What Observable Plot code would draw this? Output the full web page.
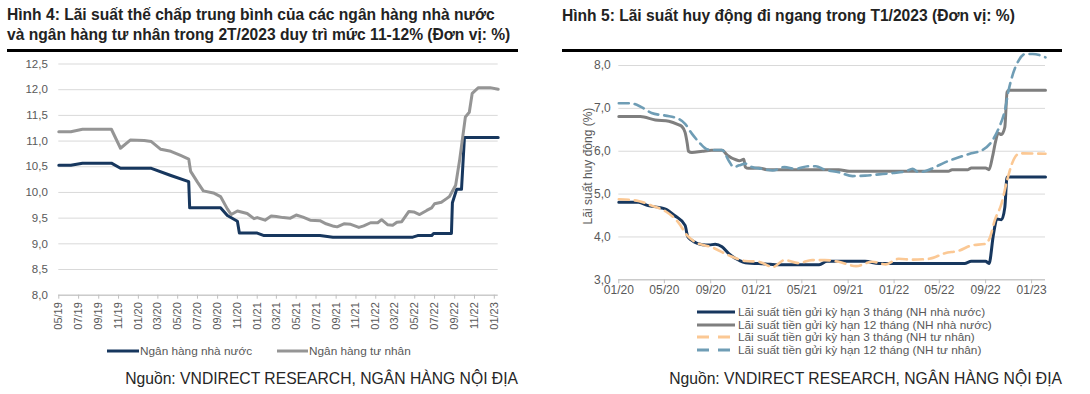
<!DOCTYPE html>
<html><head><meta charset="utf-8">
<script src="https://cdn.jsdelivr.net/npm/d3@7"></script>
<script src="https://cdn.jsdelivr.net/npm/@observablehq/plot@0.6"></script>
<style>
body{margin:0;background:#fff;font-family:"Liberation Sans",Arial,sans-serif;}
#root{position:relative;width:1090px;height:394px;overflow:hidden;background:#fff;}
.abs{position:absolute;}
.title{font-weight:bold;font-size:15.6px;color:#222;line-height:20px;white-space:nowrap;}
.rule{height:3px;background:#000;}
.src{font-size:15.7px;color:#262626;white-space:nowrap;line-height:18px;}
.leg{font-size:11.8px;color:#595959;white-space:nowrap;line-height:12px;display:flex;align-items:center;}
.leg svg{flex:none;}
</style></head><body>
<div id="root">
  <div class="abs title" style="left:7px;top:5px;">Hình 4: Lãi suất thế chấp trung bình của các ngân hàng nhà nước<br>và ngân hàng tư nhân trong 2T/2023 duy trì mức 11-12% (Đơn vị: %)</div>
  <div class="abs rule" style="left:7px;top:49px;width:511px;"></div>
  <div class="abs title" style="left:562px;top:6px;">Hình 5: Lãi suất huy động đi ngang trong T1/2023 (Đơn vị: %)</div>
  <div class="abs rule" style="left:562px;top:49px;width:500px;"></div>
  <div id="left" class="abs" style="left:0;top:50px;"></div>
  <div id="right" class="abs" style="left:545px;top:50px;"></div>
  <div id="ytitle" class="abs" style="left:588px;top:166px;transform:translate(-50%,-50%) rotate(-90deg);font-size:12px;color:#595959;white-space:nowrap;">Lãi suất huy động (%)</div>
  <div id="legLeft" class="abs" style="left:107px;top:345px;"></div>
  <div id="legRight" class="abs" style="left:697px;top:306px;"></div>
  <div class="abs src" style="right:572px;top:370px;">Nguồn: VNDIRECT RESEARCH, NGÂN HÀNG NỘI ĐỊA</div>
  <div class="abs src" style="right:28px;top:370px;">Nguồn: VNDIRECT RESEARCH, NGÂN HÀNG NỘI ĐỊA</div>
</div>
<script>
// ---------- Hình 4 data ----------
const leftTickLabels = ["05/19","07/19","09/19","11/19","01/20","03/20","05/20","07/20","09/20","11/20","01/21","03/21","05/21","07/21","09/21","11/21","01/22","03/22","05/22","07/22","09/22","11/22","01/23"];
const leftYTicks = [8, 8.5, 9, 9.5, 10, 10.5, 11, 11.5, 12, 12.5];
const leftSeriesNames = ["Ngân hàng nhà nước", "Ngân hàng tư nhân"];

const stateMortgageDates = ["2019-05-01","2019-06-07","2019-07-13","2019-10-10","2019-11-07","2020-02-10","2020-04-10","2020-06-04","2020-06-07","2020-09-10","2020-10-01","2020-11-01","2020-11-07","2021-01-01","2021-01-22","2021-07-13","2021-08-22","2022-04-25","2022-05-10","2022-06-22","2022-06-28","2022-08-22","2022-08-25","2022-09-07","2022-09-22","2022-10-01","2023-01-13"];
const stateMortgageValues = [10.53,10.53,10.57,10.57,10.47,10.47,10.33,10.21,9.70,9.70,9.55,9.44,9.21,9.21,9.16,9.16,9.13,9.13,9.16,9.16,9.20,9.20,9.80,10.06,10.06,11.07,11.07];

const privateMortgageDates = ["2019-05-01","2019-06-07","2019-07-13","2019-10-10","2019-11-07","2019-12-07","2020-01-19","2020-02-10","2020-03-10","2020-04-10","2020-05-10","2020-06-04","2020-06-10","2020-07-01","2020-07-19","2020-08-19","2020-09-10","2020-10-01","2020-10-13","2020-11-01","2020-12-01","2020-12-22","2021-01-01","2021-01-25","2021-02-13","2021-03-01","2021-03-22","2021-04-13","2021-05-01","2021-05-22","2021-06-13","2021-07-13","2021-08-01","2021-08-25","2021-09-04","2021-09-25","2021-10-16","2021-11-10","2021-11-25","2021-12-16","2022-01-07","2022-01-19","2022-02-07","2022-02-22","2022-03-07","2022-03-22","2022-04-13","2022-04-28","2022-05-16","2022-06-07","2022-06-22","2022-07-01","2022-07-22","2022-08-07","2022-08-16","2022-09-04","2022-09-16","2022-10-04","2022-10-16","2022-10-25","2022-11-13","2022-12-19","2023-01-13"];
const privateMortgageValues = [11.18,11.18,11.23,11.23,10.86,11.02,11.01,10.99,10.84,10.80,10.72,10.65,10.41,10.20,10.03,9.99,9.92,9.68,9.57,9.64,9.59,9.49,9.51,9.46,9.54,9.53,9.51,9.50,9.56,9.52,9.46,9.45,9.39,9.34,9.33,9.39,9.38,9.32,9.35,9.41,9.41,9.47,9.37,9.36,9.42,9.43,9.63,9.62,9.57,9.65,9.70,9.78,9.81,9.88,9.92,10.14,10.62,11.47,11.56,11.93,12.04,12.04,12.01];

// ---------- Hình 5 data ----------
const rightTickLabels = ["01/20","05/20","09/20","01/21","05/21","09/21","01/22","05/22","09/22","01/23"];
const rightYTicks = [3, 4, 5, 6, 7, 8];
const rightSeriesNames = [
  "Lãi suất tiền gửi kỳ hạn 3 tháng (NH nhà nước)",
  "Lãi suất tiền gửi kỳ hạn 12 tháng (NH nhà nước)",
  "Lãi suất tiền gửi kỳ hạn 3 tháng (NH tư nhân)",
  "Lãi suất tiền gửi kỳ hạn 12 tháng (NH tư nhân)"
];

const state3mDates = ["2020-01-01","2020-02-22","2020-03-19","2020-04-16","2020-05-04","2020-05-28","2020-06-25","2020-07-02","2020-07-13","2020-08-10","2020-08-28","2020-09-13","2020-10-01","2020-10-19","2020-11-16","2020-12-02","2021-01-25","2021-03-01","2021-06-16","2021-07-07","2021-10-16","2021-11-22","2022-07-07","2022-07-25","2022-09-01","2022-09-10","2022-09-22","2022-10-01","2022-10-13","2022-10-22","2022-10-28","2023-02-07"];
const state3mValues = [4.81,4.81,4.73,4.69,4.65,4.50,4.27,4.01,3.92,3.82,3.81,3.83,3.77,3.61,3.45,3.40,3.37,3.35,3.35,3.43,3.43,3.38,3.38,3.43,3.43,3.38,4.07,4.42,4.40,4.69,5.40,5.40];

const state12mDates = ["2020-01-01","2020-02-27","2020-04-07","2020-05-13","2020-06-07","2020-06-16","2020-06-25","2020-07-01","2020-07-04","2020-07-13","2020-08-10","2020-09-04","2020-10-01","2020-10-16","2020-11-07","2020-11-16","2020-11-28","2020-12-02","2020-12-10","2021-01-07","2021-01-28","2021-08-07","2021-09-04","2022-05-25","2022-06-04","2022-07-16","2022-07-25","2022-09-01","2022-09-10","2022-09-19","2022-09-28","2022-10-04","2022-10-13","2022-10-22","2022-10-28","2022-11-01","2023-02-07"];
const state12mValues = [6.81,6.81,6.73,6.70,6.62,6.58,6.44,6.17,6.00,5.97,6.00,6.02,6.02,5.90,5.80,5.78,5.81,5.63,5.60,5.61,5.57,5.57,5.53,5.53,5.57,5.57,5.61,5.61,5.57,5.86,6.25,6.42,6.39,6.56,7.38,7.42,7.42];

const private3mDates = ["2020-01-01","2020-02-22","2020-03-28","2020-05-04","2020-06-07","2020-07-01","2020-07-22","2020-09-04","2020-10-19","2020-12-02","2021-01-07","2021-02-13","2021-03-16","2021-04-22","2021-05-28","2021-07-01","2021-08-07","2021-09-22","2021-11-04","2021-12-10","2022-01-13","2022-02-19","2022-04-04","2022-05-16","2022-06-22","2022-07-25","2022-09-01","2022-09-13","2022-09-25","2022-10-13","2022-10-28","2022-11-10","2022-12-01","2023-02-07"];
const private3mValues = [4.88,4.84,4.73,4.60,4.34,4.03,3.88,3.76,3.57,3.44,3.42,3.30,3.46,3.39,3.46,3.46,3.42,3.32,3.42,3.36,3.49,3.47,3.49,3.62,3.68,3.80,3.84,4.00,4.38,4.77,5.32,5.71,5.95,5.94];

const private12mDates = ["2020-01-01","2020-02-01","2020-03-01","2020-03-28","2020-05-04","2020-06-07","2020-06-25","2020-07-13","2020-08-01","2020-08-19","2020-09-04","2020-10-01","2020-10-19","2020-11-01","2020-11-16","2020-12-02","2020-12-19","2021-01-16","2021-02-13","2021-03-16","2021-04-13","2021-05-19","2021-06-07","2021-07-01","2021-08-07","2021-09-13","2021-10-16","2021-11-22","2021-12-28","2022-02-01","2022-02-19","2022-03-07","2022-04-10","2022-05-16","2022-06-22","2022-07-25","2022-08-22","2022-09-19","2022-10-07","2022-10-22","2022-11-01","2022-11-10","2022-11-28","2022-12-16","2023-01-04","2023-02-07"];
const private12mValues = [7.12,7.12,7.03,6.89,6.83,6.76,6.64,6.41,6.21,6.06,6.03,6.03,5.78,5.63,5.67,5.71,5.63,5.59,5.55,5.63,5.59,5.65,5.65,5.57,5.51,5.42,5.43,5.46,5.49,5.53,5.59,5.51,5.59,5.74,5.86,5.95,6.02,6.25,6.56,6.95,7.42,7.73,8.12,8.27,8.27,8.19];

// ---------- helpers ----------
const parseISO = s => new Date(s + "T00:00:00Z");
const parseTick = s => { const [m, y] = s.split("/").map(Number); return new Date(Date.UTC(2000 + y, m - 1, 1)); };
const rows = (dates, values) => dates.map((d, i) => ({date: parseISO(d), value: values[i]}));
const fmtComma = d => d.toFixed(1).replace(".", ",");

const COLORS = {navy: "#17375e", grayL: "#959595", grayR: "#7f7f7f", peach: "#fbc894", blue: "#6f9db5"};
const FONT = '"Liberation Sans", Arial, sans-serif';

// ---------- Hình 4 ----------
const leftTicks = leftTickLabels.map(parseTick);
const leftLabelMap = new Map(leftTicks.map((d, i) => [+d, leftTickLabels[i]]));
const leftPlot = Plot.plot({
  width: 520, height: 290,
  marginTop: 13.5, marginBottom: 45.3, marginLeft: 58.3, marginRight: 22.3,
  style: {fontFamily: FONT, fontSize: "11px", color: "#595959", background: "transparent", overflow: "visible"},
  x: {type: "utc", domain: [parseISO("2019-05-01"), parseISO("2023-01-13")]},
  y: {domain: [8, 12.5]},
  marks: [
    Plot.gridY(leftYTicks, {stroke: "#d9d9d9", strokeOpacity: 1, strokeWidth: 1}),
    Plot.ruleY([8], {stroke: "#bfbfbf", strokeWidth: 1}),
    Plot.axisY(leftYTicks, {tickSize: 0, tickPadding: 11, tickFormat: fmtComma, fontSize: 11.5, fill: "#595959", label: null}),
    Plot.axisX(leftTicks, {tickSize: 4, tickPadding: 3, tickRotate: -90, stroke: "#bfbfbf", tickFormat: d => leftLabelMap.get(+d), fontSize: 11, fill: "#595959", label: null}),
    Plot.line(rows(stateMortgageDates, stateMortgageValues), {x: "date", y: "value", stroke: COLORS.navy, strokeWidth: 3}),
    Plot.line(rows(privateMortgageDates, privateMortgageValues), {x: "date", y: "value", stroke: COLORS.grayL, strokeWidth: 3})
  ]
});
document.getElementById("left").appendChild(leftPlot);

// ---------- Hình 5 ----------
const rightTicks = rightTickLabels.map(parseTick);
const rightLabelMap = new Map(rightTicks.map((d, i) => [+d, rightTickLabels[i]]));
const curve = "monotone-x";
const rightPlot = Plot.plot({
  width: 520, height: 255,
  marginTop: 15, marginBottom: 25.7, marginLeft: 73.3, marginRight: 20,
  style: {fontFamily: FONT, fontSize: "11px", color: "#595959", background: "transparent", overflow: "visible"},
  x: {type: "utc", domain: [parseISO("2020-01-01"), parseISO("2023-02-07")]},
  y: {domain: [3, 8]},
  marks: [
    Plot.gridY(rightYTicks, {stroke: "#d9d9d9", strokeOpacity: 1, strokeWidth: 1}),
    Plot.ruleY([3], {stroke: "#bfbfbf", strokeWidth: 1}),
    Plot.axisY(rightYTicks, {tickSize: 0, tickPadding: 8, tickFormat: fmtComma, fontSize: 12, fill: "#595959", label: null}),
    Plot.axisX(rightTicks, {tickSize: 4, tickPadding: 2, stroke: "#bfbfbf", tickFormat: d => rightLabelMap.get(+d), fontSize: 12, fill: "#595959", label: null}),
    Plot.line(rows(state3mDates, state3mValues), {x: "date", y: "value", stroke: COLORS.navy, strokeWidth: 3, curve}),
    Plot.line(rows(state12mDates, state12mValues), {x: "date", y: "value", stroke: COLORS.grayR, strokeWidth: 3, curve}),
    Plot.line(rows(private3mDates, private3mValues), {x: "date", y: "value", stroke: COLORS.peach, strokeWidth: 2.6, strokeDasharray: "10,6", curve}),
    Plot.line(rows(private12mDates, private12mValues), {x: "date", y: "value", stroke: COLORS.blue, strokeWidth: 2.6, strokeDasharray: "10,6", curve})
  ]
});
document.getElementById("right").appendChild(rightPlot);

// ---------- legends ----------
function swatch(color, dash, w) {
  return `<svg width="${w}" height="6"><line x1="0" x2="${w}" y1="3" y2="3" stroke="${color}" stroke-width="3" ${dash ? `stroke-dasharray="${dash}"` : ""}/></svg>`;
}
const legLeft = document.getElementById("legLeft");
legLeft.style.display = "flex";
legLeft.innerHTML =
  `<div class="leg" style="width:170px">${swatch(COLORS.navy, null, 32)}<span style="font-size:11.8px;margin-left:1px">${leftSeriesNames[0]}</span></div>` +
  `<div class="leg">${swatch(COLORS.grayL, null, 31)}<span style="font-size:11.8px;margin-left:1px">${leftSeriesNames[1]}</span></div>`;

const legRight = document.getElementById("legRight");
const rightSw = [[COLORS.navy, null], [COLORS.grayR, null], [COLORS.peach, "12,9"], [COLORS.blue, "12,9"]];
legRight.innerHTML = rightSeriesNames.map((n, i) =>
  `<div class="leg" style="height:12.5px">${swatch(rightSw[i][0], rightSw[i][1], 38)}<span style="margin-left:3px">${n}</span></div>`).join("");
</script>
</body></html>
